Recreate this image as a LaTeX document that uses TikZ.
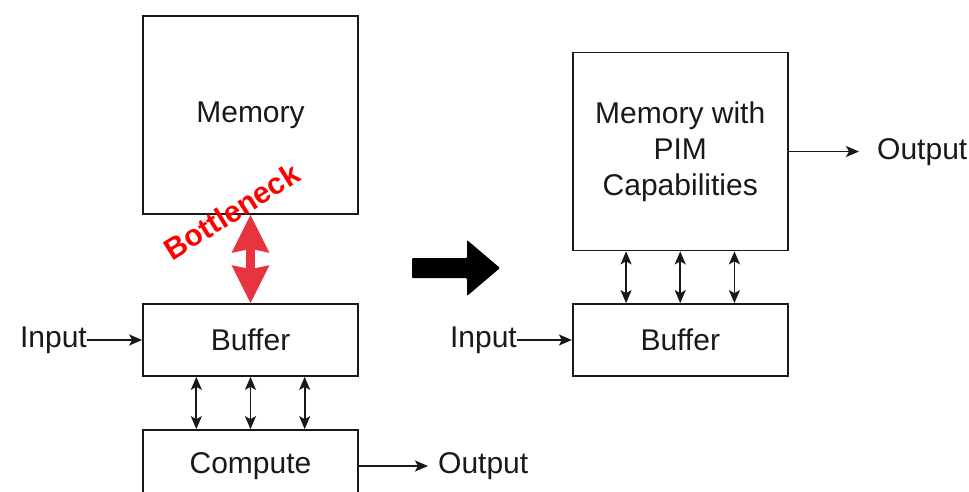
\documentclass[tikz,border=0pt]{standalone}
\usepackage{fontspec}
\setmainfont{Liberation Sans}
\usetikzlibrary{arrows.meta,calc}
\definecolor{botred}{RGB}{232,52,64}
\definecolor{ink}{RGB}{25,25,25}
\begin{document}
\begin{tikzpicture}[x=1pt,y=-1pt,
  box/.style={draw=ink, line width=1.7pt, minimum width=215pt, inner sep=0pt,
    font=\fontsize{30}{36}\selectfont, align=center, text=ink},
  lbl/.style={inner sep=0pt, font=\fontsize{30}{36}\selectfont, text height=21.5pt, text depth=6.5pt, text=ink},
  conn/.style={line width=1.7pt, draw=ink, -{Stealth[length=13pt,width=11pt,inset=3pt]}},
  dbl/.style={line width=1.7pt, draw=ink, {Stealth[length=13pt,width=11pt,inset=3pt]}-{Stealth[length=13pt,width=11pt,inset=3pt]}},
  bigred/.style={line width=9pt, draw=botred,
    {Stealth[length=38pt,width=38pt,inset=4pt,line width=0pt]}-{Stealth[length=38pt,width=38pt,inset=4pt,line width=0pt]}},
]
\useasboundingbox (0,0) rectangle (969,491);
\begin{scope}
\clip (0,0) rectangle (969,491);
% left side
\node[box, minimum height=198pt] (mem) at (250.5,115) {Memory};
\node[box, minimum height=72pt] (buf) at (250.5,340) {Buffer};
\node[box, minimum height=72pt] (comp) at (250.5,466) {Compute};
\node[lbl, anchor=east] (in1) at (87,340) {Input};
\node[lbl, anchor=west] (out1) at (438,466) {Output};
\draw[conn] (in1.east) -- (buf.west);
\draw[conn, shorten >=10pt] (comp.east) -- (out1.west);
\foreach \f in {0.25,0.5,0.75}
  \draw[dbl] ($(buf.south west)!\f!(buf.south east)$) -- ($(comp.north west)!\f!(comp.north east)$);
\draw[bigred] (mem.south) -- (buf.north);
\node[inner sep=0pt, rotate=32, text=red, font=\bfseries\fontsize{30}{34}\selectfont] (bn) at (231.5,211.5) {Bottleneck};
% big transition arrow
\fill[black, rounded corners=1pt] (412,258) -- (467,258) -- (467,240) -- (500,268) -- (467,296) -- (467,278) -- (412,278) -- cycle;
% right side
\node[box, minimum height=198pt] (pim) at (680.25,151.5) {Memory with\\PIM\\Capabilities};
\node[box, minimum height=72pt] (buf2) at (680.25,340) {Buffer};
\node[lbl, anchor=east] (in2) at (517,340) {Input};
\node[lbl, anchor=west] (out2) at (877,151.5) {Output};
\draw[conn] (in2.east) -- (buf2.west);
\draw[conn, shorten >=18pt] (pim.east) -- (out2.west);
\foreach \f in {0.25,0.5,0.75}
  \draw[dbl] ($(pim.south west)!\f!(pim.south east)$) -- ($(buf2.north west)!\f!(buf2.north east)$);
\end{scope}
\end{tikzpicture}
\end{document}
